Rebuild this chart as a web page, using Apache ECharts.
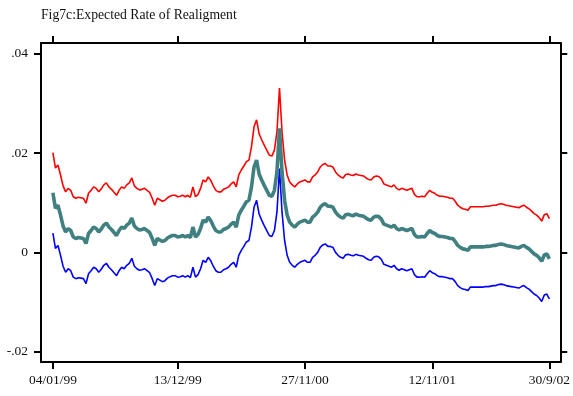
<!DOCTYPE html>
<html>
<head>
<meta charset="utf-8">
<script src="https://cdn.jsdelivr.net/npm/echarts@6/dist/echarts.min.js"></script>
<style>
  html, body { margin: 0; padding: 0; background: #fff; }
  #chart { width: 573px; height: 396px; }
</style>
</head>
<body>
<div id="chart"></div>
<script>
// Weekly observations starting Monday 4 January 1999
const startDate = '1999-01-04';
const weekCount = 196;

// Expected rate of realignment (central estimate)
const expected = [
  .0120,.0089,.0095,.0075,.0053,.0041,.0048,.0044,.0031,.0028,
  .0030,.0029,.0028,.0018,.0038,.0044,.0051,.0048,.0041,.0047,
  .0055,.0059,.0051,.0046,.0040,.0034,.0044,.0051,.0048,.0055,
  .0059,.0069,.0053,.0048,.0045,.0046,.0048,.0044,.0040,.0028,
  .0014,.0028,.0025,.0022,.0024,.0029,.0032,.0034,.0034,.0031,
  .0032,.0034,.0031,.0034,.0030,.0051,.0031,.0036,.0048,.0065,
  .0061,.0071,.0064,.0053,.0044,.0041,.0041,.0046,.0048,.0051,
  .0057,.0061,.0051,.0075,.0085,.0093,.0102,.0105,.0132,.0172,
  .0186,.0158,.0146,.0135,.0125,.0115,.0113,.0125,.0162,.0250,
  .0162,.0105,.0075,.0061,.0055,.0051,.0057,.0061,.0063,.0065,
  .0061,.0061,.0071,.0075,.0081,.0091,.0096,.0098,.0093,.0093,
  .0091,.0081,.0075,.0071,.0069,.0076,.0077,.0075,.0074,.0077,
  .0075,.0074,.0073,.0069,.0066,.0065,.0071,.0073,.0072,.0067,
  .0057,.0055,.0053,.0051,.0055,.0048,.0045,.0048,.0046,.0044,
  .0046,.0048,.0036,.0031,.0031,.0032,.0031,.0038,.0044,.0040,
  .0038,.0034,.0032,.0032,.0031,.0030,.0028,.0028,.0022,.0014,
  .0010,.0007,.0006,.0004,.0011,.0011,.0011,.0011,.0011,.0011,
  .0012,.0012,.0013,.0014,.0014,.0016,.0017,.0016,.0014,.0013,
  .0012,.0011,.0010,.0009,.0012,.0014,.0010,.0007,.0002,-.0003,
  -.0006,-.0011,-.0018,-.0005,-.0003,-.0013
];

// Upper bound
const upper = [
  .0201,.0170,.0176,.0156,.0134,.0122,.0129,.0125,.0112,.0109,
  .0111,.0110,.0109,.0099,.0119,.0125,.0132,.0129,.0122,.0128,
  .0136,.0140,.0132,.0127,.0121,.0115,.0125,.0132,.0129,.0136,
  .0140,.0150,.0134,.0129,.0126,.0127,.0129,.0125,.0121,.0109,
  .0095,.0109,.0106,.0103,.0105,.0110,.0113,.0115,.0115,.0112,
  .0113,.0115,.0112,.0115,.0111,.0132,.0112,.0117,.0129,.0146,
  .0142,.0152,.0145,.0134,.0125,.0122,.0122,.0127,.0129,.0132,
  .0138,.0142,.0132,.0156,.0166,.0174,.0183,.0186,.0213,.0253,
  .0267,.0239,.0227,.0216,.0206,.0196,.0194,.0206,.0243,.0331,
  .0243,.0186,.0156,.0142,.0136,.0132,.0138,.0142,.0144,.0146,
  .0142,.0142,.0152,.0156,.0162,.0172,.0177,.0179,.0174,.0174,
  .0172,.0162,.0156,.0152,.0150,.0157,.0158,.0156,.0155,.0158,
  .0156,.0155,.0154,.0150,.0147,.0146,.0152,.0154,.0153,.0148,
  .0138,.0136,.0134,.0132,.0136,.0129,.0126,.0129,.0127,.0125,
  .0127,.0129,.0117,.0112,.0112,.0113,.0112,.0119,.0125,.0121,
  .0119,.0115,.0113,.0113,.0112,.0111,.0109,.0109,.0103,.0095,
  .0091,.0088,.0087,.0085,.0092,.0092,.0092,.0092,.0092,.0092,
  .0093,.0093,.0094,.0095,.0095,.0097,.0098,.0097,.0095,.0094,
  .0093,.0092,.0091,.0090,.0093,.0095,.0091,.0088,.0083,.0078,
  .0075,.0070,.0063,.0076,.0078,.0068
];

// Lower bound
const lower = [
  .0039,.0008,.0014,-.0006,-.0028,-.0040,-.0033,-.0037,-.0050,-.0053,
  -.0051,-.0052,-.0053,-.0063,-.0043,-.0037,-.0030,-.0033,-.0040,-.0034,
  -.0026,-.0022,-.0030,-.0035,-.0041,-.0047,-.0037,-.0030,-.0033,-.0026,
  -.0022,-.0012,-.0028,-.0033,-.0036,-.0035,-.0033,-.0037,-.0041,-.0053,
  -.0067,-.0053,-.0056,-.0059,-.0057,-.0052,-.0049,-.0047,-.0047,-.0050,
  -.0049,-.0047,-.0050,-.0047,-.0051,-.0030,-.0050,-.0045,-.0033,-.0016,
  -.0020,-.0010,-.0017,-.0028,-.0037,-.0040,-.0040,-.0035,-.0033,-.0030,
  -.0024,-.0020,-.0030,-.0006,.0004,.0012,.0021,.0024,.0051,.0091,
  .0105,.0077,.0065,.0054,.0044,.0034,.0032,.0044,.0081,.0169,
  .0081,.0024,-.0006,-.0020,-.0026,-.0030,-.0024,-.0020,-.0018,-.0016,
  -.0020,-.0020,-.0010,-.0006,0,.0010,.0015,.0017,.0012,.0012,
  .0010,0,-.0006,-.0010,-.0012,-.0005,-.0004,-.0006,-.0007,-.0004,
  -.0006,-.0007,-.0008,-.0012,-.0015,-.0016,-.0010,-.0008,-.0009,-.0014,
  -.0024,-.0026,-.0028,-.0030,-.0026,-.0033,-.0036,-.0033,-.0035,-.0037,
  -.0035,-.0033,-.0045,-.0050,-.0050,-.0049,-.0050,-.0043,-.0037,-.0041,
  -.0043,-.0047,-.0049,-.0049,-.0050,-.0051,-.0053,-.0053,-.0059,-.0067,
  -.0071,-.0074,-.0075,-.0077,-.0070,-.0070,-.0070,-.0070,-.0070,-.0070,
  -.0069,-.0069,-.0068,-.0067,-.0067,-.0065,-.0064,-.0065,-.0067,-.0068,
  -.0069,-.0070,-.0071,-.0072,-.0069,-.0067,-.0071,-.0074,-.0079,-.0084,
  -.0087,-.0092,-.0099,-.0086,-.0084,-.0094
];

// Axis ticks
const xTickDates = ['1999-01-04', '1999-12-13', '2000-11-27', '2001-11-12', '2002-09-30'];
const xTickLabels = ['04/01/99', '13/12/99', '27/11/00', '12/11/01', '30/9/02'];
const yTickValues = [-0.02, 0, 0.02, 0.04];
const yTickLabels = ['-.02', '0', '.02', '.04'];

// Dates are held as day numbers counted from the first observation
const DAY = 86400000;
const t0 = Date.parse(startDate + 'T00:00:00Z');
const dayOf = d => Math.round((Date.parse(d + 'T00:00:00Z') - t0) / DAY);
const days = [];
for (let i = 0; i < weekCount; i++) days.push(i * 7);
const xTickDays = xTickDates.map(dayOf);

const xMin = -32.7;
const xMax = days[weekCount - 1] + 30;
const yMin = -0.0221;
const yMax = 0.0422;

const pairs = arr => arr.map((v, i) => [days[i], v]);

const font = '"Liberation Serif", "Times New Roman", serif';
const ink = '#000';

const xFmt = v => {
  const k = xTickDays.findIndex(t => Math.abs(t - v) < 0.5);
  return k >= 0 ? xTickLabels[k] : '';
};
const yFmt = v => {
  const k = yTickValues.findIndex(t => Math.abs(t - v) < 1e-9);
  return k >= 0 ? yTickLabels[k] : '';
};

const xAxisBase = (pos, showLabels) => ({
  type: 'value',
  position: pos,
  min: xMin,
  max: xMax,
  axisLine: { show: true, onZero: false, lineStyle: { color: ink, width: 2 } },
  axisTick: { show: true, inside: false, length: 7, customValues: xTickDays, lineStyle: { color: ink, width: 2 } },
  axisLabel: {
    show: showLabels, customValues: xTickDays, formatter: xFmt,
    color: '#111', fontFamily: font, fontSize: 13.5, margin: 11,
    hideOverlap: false
  },
  splitLine: { show: false }
});

const yAxisBase = (pos, showLabels) => ({
  type: 'value',
  position: pos,
  min: yMin,
  max: yMax,
  axisLine: { show: true, onZero: false, lineStyle: { color: ink, width: 2 } },
  axisTick: { show: true, inside: false, length: 7, customValues: yTickValues, lineStyle: { color: ink, width: 2 } },
  axisLabel: {
    show: showLabels, customValues: yTickValues, formatter: yFmt,
    color: '#111', fontFamily: font, fontSize: 13.5, margin: 13
  },
  splitLine: { show: false }
});

const chart = echarts.init(document.getElementById('chart'), null, { renderer: 'canvas' });
chart.setOption({
  animation: false,
  backgroundColor: '#fff',
  title: {
    text: 'Fig7c:Expected Rate of Realigment',
    left: 41, top: 8, padding: 0,
    textStyle: { fontFamily: font, fontSize: 13.7, fontWeight: 'normal', color: '#111' }
  },
  grid: { left: 41, right: 8, top: 43, bottom: 34, containLabel: false },
  xAxis: [xAxisBase('bottom', true), xAxisBase('top', false)],
  yAxis: [yAxisBase('left', true), yAxisBase('right', false)],
  series: [
    {
      name: 'upper', type: 'line', data: pairs(upper), showSymbol: false,
      lineStyle: { color: '#ff0000', width: 1.6 }, z: 2
    },
    {
      name: 'lower', type: 'line', data: pairs(lower), showSymbol: false,
      lineStyle: { color: '#0000ff', width: 1.6 }, z: 2
    },
    {
      name: 'expected', type: 'line', data: pairs(expected), showSymbol: false,
      lineStyle: { color: '#408080', width: 3.6 }, z: 3
    }
  ]
});
</script>
</body>
</html>
